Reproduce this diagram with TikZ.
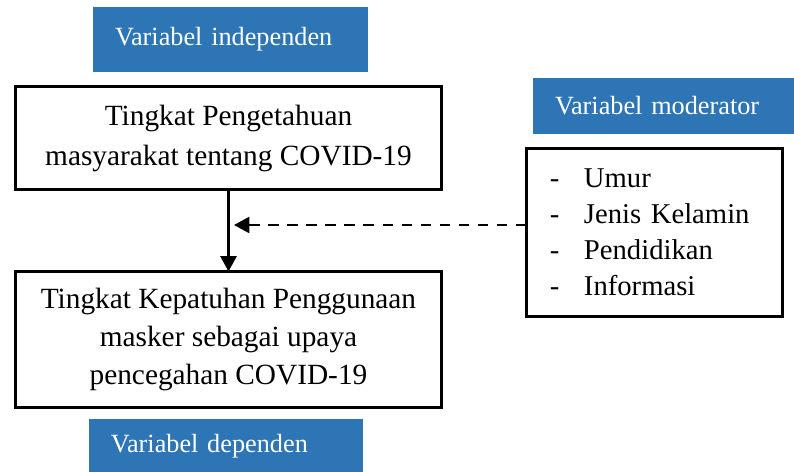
\documentclass[tikz,border=0pt]{standalone}
\usepackage{fontspec}
\setmainfont{Liberation Serif}
\usepackage{tikz}
\usetikzlibrary{arrows.meta,positioning,calc}
\definecolor{varblue}{HTML}{2E75B6}
\tikzset{
  konsep/.style={draw=black, line width=2.4pt, align=center, inner sep=0pt, outer sep=0pt,
    minimum width=320pt},
  varlabel/.style={fill=varblue, text=white, align=left, inner xsep=16.5pt, inner ysep=0pt,
    outer sep=0pt, font=\fontsize{19.7}{24}\selectfont},
  panah/.style={-{Triangle[length=11.5pt,width=12pt]}, line width=1.8pt},
  panahputus/.style={panah, dash pattern=on 7.9pt off 6.4pt},
}

\begin{document}
\begin{tikzpicture}[x=0.75pt,y=0.75pt]
\useasboundingbox (0,0) rectangle (794,472);

\node[konsep, minimum height=77.25pt, font=\fontsize{22}{30}\selectfont] (pengetahuan) at (228.5,334)
  {Tingkat Pengetahuan\\masyarakat tentang COVID-19};
\node[konsep, minimum height=102pt, font=\fontsize{22}{28.75}\selectfont, below=61.5pt of pengetahuan] (kepatuhan)
  {Tingkat Kepatuhan Penggunaan\\masker sebagai upaya\\pencegahan COVID-19};
\node[varlabel, text width=173.25pt, minimum height=48.75pt, above=10.9pt of pengetahuan, xshift=1.5pt] (independen)
  {Variabel independen};
\node[varlabel, text width=172.5pt, minimum height=40.5pt, below=8.6pt of kepatuhan, xshift=-1.9pt] (dependen)
  {Variabel dependen};

\node[konsep, minimum width=192pt, minimum height=126pt, align=left, text width=156.8pt, inner xsep=17.6pt,
  font=\fontsize{21.5}{27}\selectfont] (moderator) at (654.5,239.5)
  {\makebox[25.5pt][l]{-}Umur\\
   \makebox[25.5pt][l]{-}Jenis Kelamin\\
   \makebox[25.5pt][l]{-}Pendidikan\\
   \makebox[25.5pt][l]{-}Informasi};
\node[varlabel, text width=162.75pt, minimum height=42pt, above=10.9pt of moderator, xshift=6.75pt] (labelmod)
  {Variabel moderator};

\coordinate (titik) at ($(pengetahuan.south)+(5.5,-35.5)$);

\draw[panah] (pengetahuan) -- (kepatuhan);
\draw[panahputus] (moderator.west |- titik) -- (titik);
\end{tikzpicture}
\end{document}
